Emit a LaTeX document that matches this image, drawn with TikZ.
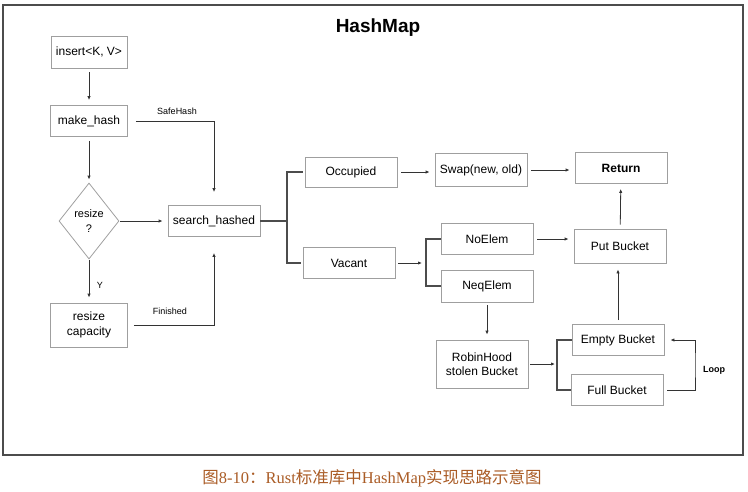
\documentclass[tikz,border=0pt]{standalone}
\usepackage{fontspec}
\setmainfont{Liberation Sans}
\newfontfamily\capserif{Liberation Serif}
\newfontfamily\capcjk{Noto Sans CJK SC}
\usetikzlibrary{shapes.geometric,arrows.meta}
\definecolor{capbrown}{RGB}{170,92,38}
\tikzset{
  box/.style={draw=gray!75, line width=0.8pt, minimum width=92pt, minimum height=31pt,
    inner sep=0pt, align=center, font=\fontsize{12}{14.5}\selectfont},
  lbl/.style={font=\fontsize{9}{10}\selectfont, inner sep=0pt},
  line/.style={draw=black!70, line width=1.1pt},
  arr/.style={draw=black!80, line width=0.8pt, -{Latex[length=4pt,width=3.4pt]},
    shorten <=4pt, shorten >=5pt},
}
\begin{document}
\begin{tikzpicture}[x=1pt,y=-1pt]
        \useasboundingbox (0,0) rectangle (748,491);
        %% Frame and title
        \draw[draw=black!70, line width=1.6pt] (3,5) rectangle (743,455);
        \node[font=\bfseries\fontsize{19}{22}\selectfont] (title) at (378,28) {HashMap};
        %% Left column
        \node[box, minimum width=76pt, minimum height=32pt] (insert) at (89,52) {insert<K, V>};
        \node[box, minimum width=77pt] (make) at (89,121) {make\_hash};
        \node[draw=gray!75, line width=0.8pt, diamond, minimum width=60pt, minimum height=76pt,
          inner sep=0pt, align=center, font=\fontsize{11}{15}\selectfont] (resize) at (89,221) {resize\\?};
        \node[box, minimum width=77pt, minimum height=44pt] (rcap) at (89,325) {resize\\capacity};
        \node[box] (search) at (214,221) {search\_hashed};
        %% Occupied / Vacant
        \node[box, minimum height=30pt] (occ) at (351,172) {Occupied};
        \node[box] (vac) at (349,263) {Vacant};
        \node[box, minimum height=33pt] (swap) at (481,170) {Swap(new, old)};
        \node[box] (noel) at (487,239) {NoElem};
        \node[box, minimum height=32pt] (neq) at (487,286) {NeqElem};
        \node[box, minimum height=48pt] (robin) at (482,364) {RobinHood\\stolen Bucket};
        %% Buckets
        \node[box, font=\bfseries\fontsize{12}{14.5}\selectfont] (ret) at (621,168) {Return};
        \node[box, minimum height=34pt] (put) at (620,246) {Put Bucket};
        \node[box] (empty) at (618,340) {Empty Bucket};
        \node[box] (full) at (617,390) {Full Bucket};
        %% Left connectors
        \draw[arr] (insert) -- (make);
        \draw[arr, shorten >=3pt] (make) -- (resize);
        \draw[arr, shorten <=1pt] (resize) -- (rcap);
        \node[lbl] (yes) at (100,285) {Y};
        \draw[arr, shorten <=1pt] (resize) -- (search);
        \draw[arr, shorten <=8pt, shorten >=13pt] (make.east) -| (search.north);
        \node[lbl] (safe) at (177,111) {SafeHash};
        \draw[arr, shorten <=6pt, shorten >=16pt] (rcap.east) -| (search.south);
        \node[lbl] (fin) at (170,311) {Finished};
        %% Forks
        \coordinate (f1) at (287,221);
        \draw[line] (search) -- (f1);
        \draw[line, shorten <=2pt, shorten >=2pt] (occ.west) -| (f1) |- (vac.west);
        \draw[arr] (occ.east) -- (occ.east -| swap.west);
        \draw[arr] (swap.east) -- (swap.east -| ret.west);
        \coordinate (f2) at (426,263);
        \draw[arr, shorten <=3pt, shorten >=4pt] (vac.east) -- (f2);
        \draw[line] (noel.west) -| (f2) |- (neq.west);
        \draw[arr] (noel.east) -- (noel.east -| put.west);
        \draw[arr] (put) -- (ret);
        \draw[arr, shorten <=3pt] (neq.south) -- (neq.south |- robin.north);
        \coordinate (f3) at (557,364);
        \draw[arr, shorten <=2pt, shorten >=2pt] (robin.east) -- (f3);
        \draw[line] (empty.west) -| (f3) |- (full.west);
        \draw[arr, shorten >=6pt] (empty.north) -- (empty.north |- put.south);
        %% Loop
        \coordinate (f4) at (695,365);
        \draw[arr, shorten <=4pt, shorten >=6pt] (full.east) -| (f4) |- (empty.east);
        \node[lbl, font=\bfseries\fontsize{9}{10}\selectfont] (loop) at (714,370) {Loop};
        %% Caption
        \node[text=capbrown, font=\fontsize{16.5}{20}\selectfont] (cap) at (372,478)
          {\capcjk 图\capserif 8-10\capcjk ：\capserif Rust\capcjk 标准库中\capserif HashMap\capcjk 实现思路示意图};
\end{tikzpicture}
\end{document}
